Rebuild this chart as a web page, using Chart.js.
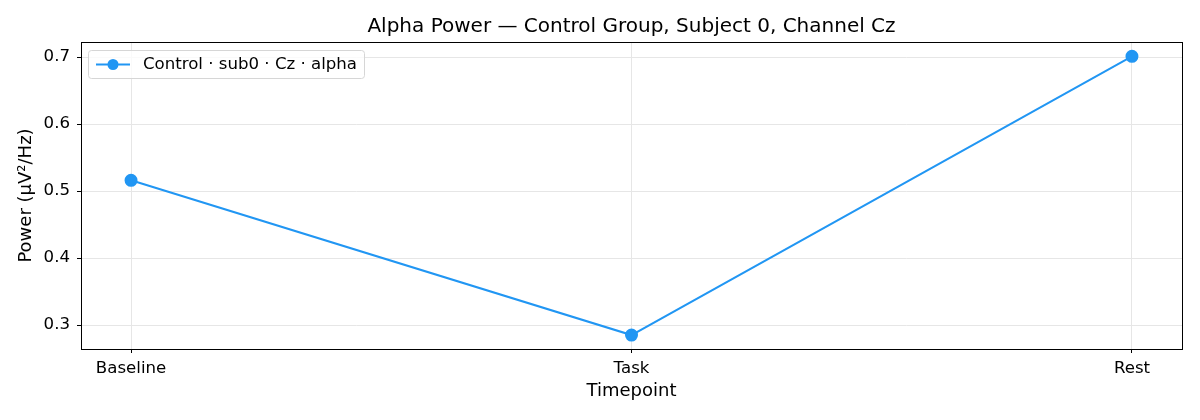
<!DOCTYPE html>
<html lang="en">
<head>
   <meta charset="UTF-8">
   <title>Alpha Power</title>
   <script src="https://cdn.jsdelivr.net/npm/chart.js"></script>
   <style>
      html, body { margin: 0; padding: 0; background: #fff; }
      #wrap { width: 1200px; height: 420px; }
   </style>
</head>
<body>
   <div id="wrap"><canvas id="powerChart" width="1200" height="420"></canvas></div>

   <script>
      // data
      const timepoints = ['Baseline', 'Task', 'Rest'];
      const alphaPower = [0.516, 0.285, 0.701];
      const yTicks = [0.3, 0.4, 0.5, 0.6, 0.7];
      const seriesLabel = 'Control · sub0 · Cz · alpha';

      const lineColor = '#2196f3';
      const font = 'DejaVu Sans';

      // black frame round the plot (like matplotlib spines)
      const frame = {
         id: 'frame',
         afterDatasetsDraw(chart) {
            const a = chart.chartArea, c = chart.ctx;
            c.save();
            c.strokeStyle = '#000';
            c.lineWidth = 1;
            c.strokeRect(Math.round(a.left) + 0.5, Math.round(a.top) + 0.5,
               Math.round(a.right - a.left), Math.round(a.bottom - a.top));
            c.restore();
         }
      };

      // legend box inside the plot, top-left
      const insideLegend = {
         id: 'insideLegend',
         afterDraw(chart) {
            const a = chart.chartArea, c = chart.ctx;
            const x = a.left + 7, y = a.top + 8;
            c.save();
            c.font = '16.6px "' + font + '"';
            const w = c.measureText(seriesLabel).width + 62, h = 28;
            c.fillStyle = 'rgba(255,255,255,0.8)';
            c.strokeStyle = '#d6d6d6';
            c.lineWidth = 1;
            c.beginPath();
            c.roundRect(x + 0.5, y + 0.5, w, h, 3);
            c.fill();
            c.stroke();
            const my = y + h / 2 + 0.5;
            c.strokeStyle = lineColor;
            c.lineWidth = 2;
            c.beginPath();
            c.moveTo(x + 8, my);
            c.lineTo(x + 42, my);
            c.stroke();
            c.fillStyle = lineColor;
            c.beginPath();
            c.arc(x + 25, my, 5.5, 0, Math.PI * 2);
            c.fill();
            c.fillStyle = '#000';
            c.textBaseline = 'middle';
            c.fillText(seriesLabel, x + 55, my);
            c.restore();
         }
      };

      const ctx = document.getElementById('powerChart').getContext('2d');
      new Chart(ctx, {
         type: 'line',
         data: {
            datasets: [{
               label: seriesLabel,
               data: alphaPower.map((v, i) => ({ x: i, y: v })),
               borderColor: lineColor,
               backgroundColor: lineColor,
               borderWidth: 2,
               pointRadius: 5.5,
               pointHoverRadius: 5.5,
               tension: 0
            }]
         },
         plugins: [frame, insideLegend],
         options: {
            responsive: false,
            animation: false,
            layout: { padding: { left: 0, right: 18, top: 0, bottom: 0 } },
            plugins: {
               legend: { display: false },
               tooltip: { enabled: false },
               title: {
                  display: true,
                  fullSize: false,
                  text: 'Alpha Power — Control Group, Subject 0, Channel Cz',
                  color: '#000',
                  font: { family: font, size: 20, weight: 'normal' },
                  lineHeight: 1.2,
                  padding: { top: 15, bottom: 3 }
               }
            },
            scales: {
               x: {
                  type: 'linear',
                  min: -0.1,
                  max: 2.1,
                  afterBuildTicks: s => { s.ticks = timepoints.map((t, i) => ({ value: i })); },
                  afterFit: s => { s.height = 71; },
                  ticks: {
                     color: '#000',
                     font: { family: font, size: 16.6 },
                     padding: 6,
                     maxRotation: 0,
                     callback: v => timepoints[v]
                  },
                  grid: { color: '#e6e6e6', tickColor: '#000', tickLength: 4, drawOnChartArea: true },
                  border: { display: false },
                  title: {
                     display: true,
                     text: 'Timepoint',
                     color: '#000',
                     font: { family: font, size: 18 },
                     padding: { top: 2, bottom: 18 }
                  }
               },
               y: {
                  min: 0.2642,
                  max: 0.7224,
                  afterBuildTicks: s => { s.ticks = yTicks.map(v => ({ value: v })); },
                  afterFit: s => { s.width = 81; },
                  ticks: {
                     color: '#000',
                     font: { family: font, size: 16.6 },
                     padding: 7,
                     callback: v => v.toFixed(1)
                  },
                  grid: { color: '#e6e6e6', tickColor: '#000', tickLength: 4 },
                  border: { display: false },
                  title: {
                     display: true,
                     text: 'Power (µV²/Hz)',
                     color: '#000',
                     font: { family: font, size: 18 },
                     padding: { top: 16, bottom: 0 }
                  }
               }
            }
         }
      });
   </script>
</body>
</html>
